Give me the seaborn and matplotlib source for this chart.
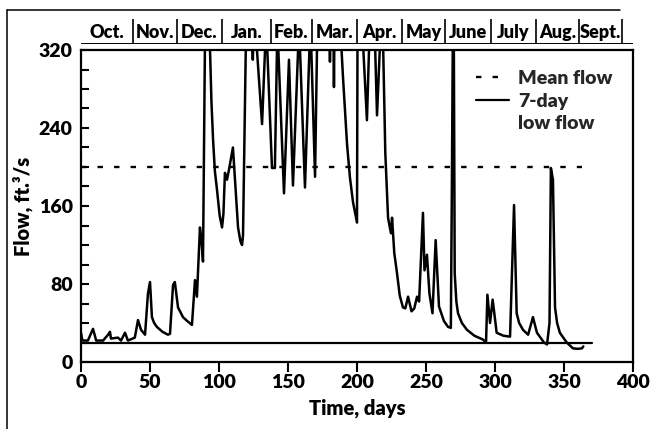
import matplotlib
matplotlib.use("Agg")
import pandas as pd
import matplotlib.pyplot as plt
import seaborn as sns
from matplotlib.lines import Line2D

# ----------------------------- Data -----------------------------
# daily flow hydrograph, ft3/s (values above 320 run off the top of the chart)
days = [0.0, 0.7, 1.4, 5.0, 8.7, 11.0, 16.0, 19.6, 21.0, 21.7, 26.8, 29.0, 31.9, 34.0,
        39.0, 41.3, 43.5, 46.4, 48.5, 50.0, 51.4, 53.0, 55.0, 59.0, 63.0, 64.5, 66.7,
        68.0, 70.3, 73.9, 77.0, 80.4, 82.6, 84.0, 86.2, 87.3, 88.4, 89.9, 91.5, 93.5,
        94.5, 95.7, 97.0, 98.6, 100.5, 102.2, 103.2, 104.3, 105.8, 107.2, 110.1, 111.6,
        113.8, 115.5, 116.7, 117.4, 119.6,
        120.5, 123.8, 124.5, 125.2, 127.5, 131.2, 133.3, 134.2, 135.0, 138.4, 140.5,
        142.0, 142.5, 143.0, 147.1, 150.7, 153.6, 157.3, 158.0, 158.7, 162.3, 165.5,
        166.2, 166.9, 169.6, 171.0, 172.0, 180.0, 180.4, 180.8, 182.9, 183.3, 183.7,
        188.3, 188.8, 189.9, 192.8, 194.9, 197.1, 200.0, 200.4, 204.0, 204.6, 207.2,
        208.7, 209.5, 212.5, 213.2, 214.5, 216.5, 217.3, 218.3, 219.0, 220.5, 222.5, 224.6,
        225.4, 227.0, 229.0, 231.0, 233.3, 235.0, 237.0, 239.5, 241.5, 243.5, 245.0,
        247.8, 248.9, 250.7, 252.5, 254.7, 257.0, 259.4, 263.0, 266.0, 268.0, 268.8,
        269.5, 270.2, 270.8, 272.0, 273.2, 276.0, 279.7, 285.0, 291.3, 293.5, 294.5, 296.4,
        298.3, 301.2, 306.0, 310.9, 313.8, 315.7, 317.5, 320.3, 324.0, 327.5, 330.4, 335.5,
        337.7, 339.5, 340.5, 342.0, 343.5, 345.0, 347.0, 352.0, 356.5, 360.0, 363.0, 364.0]
flow = [30, 24, 22, 22, 34, 22, 22, 28, 31, 24, 25, 22, 30, 22,
        25, 43, 33, 28, 70, 82, 46, 40, 36, 31, 28, 29, 79,
        82, 56, 46, 42, 38, 84, 67, 138, 125, 103, 340, 350, 320,
        268, 228, 196, 176, 150, 138, 152, 194, 187, 197, 220, 187,
        138, 124, 120, 130, 340,
        350, 350, 310, 350, 320, 244, 320, 350, 320, 199, 199,
        320, 350, 320, 173, 310, 181, 320, 350, 320, 179, 320,
        350, 320, 190, 320, 350, 350, 308, 350, 350, 282, 350,
        350, 320, 291, 223, 189, 164, 143, 350, 350, 320, 248,
        320, 350, 350, 320, 253, 320, 350, 350, 320, 215, 148, 132,
        148, 112, 91, 68, 56, 55, 67, 52, 55, 67, 62,
        153, 94, 110, 70, 50, 125, 57, 42, 36, 35, 190,
        350, 320, 91, 62, 50, 40, 33, 27, 23, 20, 69, 40,
        64, 30, 27, 26, 161, 50, 40, 33, 28, 46, 30, 20,
        18, 40, 199, 187, 56, 40, 30, 20, 14, 13.5, 14, 16]

mean_flow = 200          # ft3/s
mean_span = [0, 363]     # days
low_flow = 20            # 7-day low flow, ft3/s
low_span = [0, 370]      # days

months = ["Oct.", "Nov.", "Dec.", "Jan.", "Feb.", "Mar.",
          "Apr.", "May", "June", "July", "Aug.", "Sept."]
month_edges = [0, 37.7, 69.6, 102.2, 137.7, 167.4, 200.0,
               232.6, 263.8, 297.1, 329.7, 360.9, 392.0]

x_ticks = list(range(0, 401, 50))
y_ticks = [0, 80, 160, 240, 320]
y_minor = list(range(0, 321, 20))

df = pd.DataFrame({"Day": days, "Flow": flow})

# ----------------------------- Style -----------------------------
sns.set_theme(style="ticks")
plt.rcParams["font.family"] = ["Lato", "DejaVu Sans"]
plt.rcParams["font.weight"] = "heavy"
plt.rcParams["axes.labelweight"] = "heavy"

W, H = 655, 429
fig = plt.figure(figsize=(W / 100, H / 100), dpi=100)
ax = fig.add_axes([81 / W, 1 - 362 / H, 552 / W, 312 / H])

# ----------------------------- Plot -----------------------------
sns.lineplot(data=df, x="Day", y="Flow", ax=ax, color="black", linewidth=1.8,
             estimator=None, sort=False)
mean_ln, = ax.plot(mean_span, [mean_flow, mean_flow], color="black", linewidth=1.7,
                   linestyle=(0, (2.3, 4.7)))
low_ln, = ax.plot(low_span, [low_flow, low_flow], color="black", linewidth=1.6)

ax.set_xlim(0, 400)
ax.set_ylim(0, 320)
ax.set_xticks(x_ticks)
ax.set_yticks(y_ticks)
ax.set_yticks(y_minor, minor=True)
ax.tick_params(axis="x", direction="out", length=7, width=1.5, pad=2, labelsize=14, colors="black")
ax.tick_params(axis="y", which="both", direction="in", length=5.5, width=1.5, pad=6,
               labelsize=14, colors="black")
for side in ["left", "right", "top", "bottom"]:
    ax.spines[side].set_visible(True)
    ax.spines[side].set_linewidth(1.6)
    ax.spines[side].set_color("black")

ax.set_xlabel("Time, days", fontsize=14.5, labelpad=5, color="black")
ax.set_ylabel("Flow, ft.³/s", fontsize=14.5, labelpad=4, color="black")

ax.legend([mean_ln, low_ln, Line2D([], [], color="none")],
          ["Mean flow", "7-day", "low flow"],
          loc="upper left", bbox_to_anchor=(0.715, 0.935), frameon=False,
          fontsize=14, handlelength=1.7, handletextpad=0.5, labelspacing=0.28,
          borderpad=0, borderaxespad=0)

# ----------------------------- Month header -----------------------------
hdr = fig.add_axes([81 / W, 1 - 44 / H, 552 / W, 25 / H])
hdr.set_xlim(0, 400)
hdr.set_ylim(0, 1)
hdr.axis("off")
hdr.vlines(month_edges[1:], 0, 1, color="black", linewidth=1.2)
hdr.axhline(0, color="black", linewidth=1.4)
for i, name in enumerate(months):
    hdr.text((month_edges[i] + month_edges[i + 1]) / 2, 0.45, name,
             ha="center", va="center", fontsize=13, color="black")

# outer frame of the original figure
fig.add_artist(Line2D([7 / W, 7 / W], [0, 1 - 10 / H], transform=fig.transFigure,
                      color="black", linewidth=1.1))
fig.add_artist(Line2D([7 / W, 620 / W], [1 - 10 / H, 1 - 10 / H], transform=fig.transFigure,
                      color="black", linewidth=1.1))

fig.savefig("out.png", dpi=100, facecolor="white")
